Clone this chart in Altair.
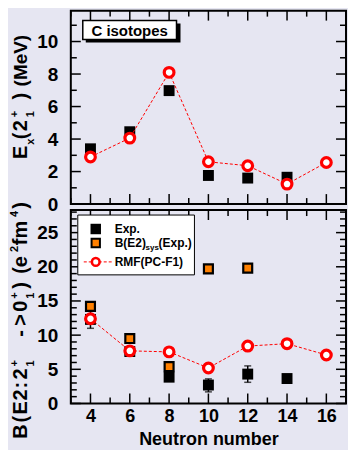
import altair as alt
import pandas as pd

# ---------------- data ----------------
N_exp_E = [4, 6, 8, 10, 12, 14]
E_exp = [3.4, 4.45, 6.98, 1.76, 1.6, 1.65]
N_rmf = [4, 6, 8, 10, 12, 14, 16]
E_rmf = [2.9, 4.06, 8.1, 2.6, 2.36, 1.23, 2.56]

N_exp_B = [4, 6, 8, 10, 12, 14]
B_exp = [12.3, 7.6, 3.85, 2.7, 4.3, 3.65]
N_err = [4, 10, 12]
B_err_lo = [11.0, 1.7, 3.1]
B_err_hi = [13.6, 3.6, 5.5]
N_sys = [4, 6, 8, 10, 12]
B_sys = [14.2, 9.5, 5.4, 19.7, 19.8]
B_rmf = [12.4, 7.7, 7.55, 5.2, 8.4, 8.75, 7.1]

x_ticks_major = [4, 6, 8, 10, 12, 14, 16]
x_ticks_minor = [3, 5, 7, 9, 11, 13, 15, 17]
yt_major = [0, 2, 4, 6, 8, 10]
yt_minor = [1, 3, 5, 7, 9, 11]
yb_major = [0, 5, 10, 15, 20, 25]
yb_minor = [v for v in range(1, 29) if v % 5 != 0]

legend_labels = ["Exp.", "B(E2)", "sys", "(Exp.)", "RMF(PC-F1)"]
panel_label = "C isotopes"
x_title = "Neutron number"
# y-axis titles, split into pieces so sub/superscripts can be stacked
top_title_parts = ["E", "x", "(", "2", "+", "1", ")", "(MeV)"]
bot_title_parts = ["B", "(", "E", "2", ":", "2", "+", "1", "-", ">", "0", "+", "1", ")",
                   "(e", "2", "fm", "4", ")"]

# ---------------- style ----------------
BG = "#e6e6f2"
FONT = "Liberation Sans"
W, H = 276, 194
ORANGE = "#ff8000"
RED = "#ff0000"

xs = alt.Scale(domain=[3, 17], nice=False, zero=False)
ys_top = alt.Scale(domain=[0, 11.9], nice=False, zero=False)
ys_bot = alt.Scale(domain=[0, 28.3], nice=False, zero=False)

yaxis_top = alt.Axis(values=yt_major, ticks=False, domain=False, grid=False,
                     labelFontSize=19, labelFontWeight="bold", labelPadding=13,
                     labelColor="black", title=None)
yaxis_bot = alt.Axis(values=yb_major, ticks=False, domain=False, grid=False,
                     labelFontSize=19, labelFontWeight="bold", labelPadding=13,
                     labelColor="black", title=None)
xaxis_bot = alt.Axis(values=x_ticks_major, ticks=False, domain=False, grid=False,
                     labelFontSize=18, labelFontWeight="bold", labelPadding=4,
                     labelColor="black",
                     title=x_title, titleFontSize=18, titleFontWeight="bold",
                     titleX=W / 2, titleY=41, titleAlign="center",
                     titleBaseline="alphabetic", titleColor="black")

BASE_X = -44   # baseline of rotated y titles (relative to plot left)
SUP, SUB = -9, 7
# (start y along text, x offset from baseline, font size) for each title piece
top_title_layout = [(148.7, 0, 20), (134.5, SUB, 11), (129, 0, 20), (121, 0, 20),
                    (107, SUP, 11), (107, SUB, 11), (89, 0, 20), (76, 0, 19)]
bot_title_layout = [(229.3, 0, 20), (213, 0, 20), (205, 0, 20), (191, 0, 20),
                    (179, 0, 20), (170, 0, 20), (157, SUP, 11), (157, SUB, 11),
                    (127, 0, 20), (116, 0, 20), (102, 0, 20), (89, SUP, 11), (89, SUB, 11),
                    (79, 0, 20), (64, 0, 20), (42, SUP, 11), (35.3, 0, 20),
                    (7, SUP, 11), (-1.3, 0, 20)]


def X(field, axis):
    return alt.X(field, type="quantitative", scale=xs, axis=axis)


one = pd.DataFrame({"a": [0]})


def title_layers(parts, layout):
    out = []
    for txt, (yy, dx, fs) in zip(parts, layout):
        out.append(alt.Chart(one).mark_text(font=FONT, fontSize=fs, fontWeight="bold", color="black",
                                            angle=270, align="left", baseline="alphabetic").encode(
            x=alt.value(BASE_X + dx), y=alt.value(yy), text=alt.value(txt)))
    return out


def frame_ticks(ymaj, ymin, ys, yaxis, xaxis):
    layers = []
    for vals, L in [(ymaj, 10), (ymin, 6)]:
        d = pd.DataFrame({"v": vals})
        b = alt.Chart(d).mark_rule(color="black", strokeWidth=1.5)
        layers.append(b.encode(y=alt.Y("v:Q", scale=ys, axis=yaxis), x=alt.value(0), x2=alt.value(L)))
        layers.append(b.encode(y=alt.Y("v:Q", scale=ys, axis=yaxis), x=alt.value(W - L), x2=alt.value(W)))
    for vals, L in [(x_ticks_major, 10), (x_ticks_minor, 6)]:
        d = pd.DataFrame({"v": vals})
        b = alt.Chart(d).mark_rule(color="black", strokeWidth=1.5)
        layers.append(b.encode(x=X("v", xaxis), y=alt.value(H - L), y2=alt.value(H)))
        layers.append(b.encode(x=X("v", xaxis), y=alt.value(0), y2=alt.value(L)))
    return layers


# ---------------- top panel ----------------
dfE = pd.DataFrame({"N": N_exp_E, "E": E_exp})
dfEr = pd.DataFrame({"N": N_rmf, "E": E_rmf})

top_exp = alt.Chart(dfE).mark_square(size=120, color="black", opacity=1).encode(
    x=X("N", None), y=alt.Y("E:Q", scale=ys_top, axis=yaxis_top))
top_line = alt.Chart(dfEr).mark_line(color=RED, strokeWidth=1, strokeDash=[3, 2]).encode(
    x=X("N", None), y=alt.Y("E:Q", scale=ys_top, axis=yaxis_top))
top_rmf = alt.Chart(dfEr).mark_point(shape="circle", size=95, filled=False, color=RED,
                                     strokeWidth=3.2, fill="white", fillOpacity=1, opacity=1).encode(
    x=X("N", None), y=alt.Y("E:Q", scale=ys_top, axis=yaxis_top))

lab_shadow = alt.Chart(one).mark_rect(color="black").encode(
    x=alt.value(15), x2=alt.value(110), y=alt.value(13), y2=alt.value(32))
lab_box = alt.Chart(one).mark_rect(fill="white", stroke="black", strokeWidth=1.5).encode(
    x=alt.value(12), x2=alt.value(106), y=alt.value(10), y2=alt.value(29))
lab_text = alt.Chart(one).mark_text(font=FONT, fontSize=15, fontWeight="bold", color="black",
                                    align="center", baseline="middle").encode(
    x=alt.value(59), y=alt.value(20), text=alt.value(panel_label))

top = alt.layer(*frame_ticks(yt_major, yt_minor, ys_top, yaxis_top, None),
                top_exp, top_line, top_rmf, lab_shadow, lab_box, lab_text,
                *title_layers(top_title_parts, top_title_layout)
                ).properties(width=W, height=H)

# ---------------- bottom panel ----------------
dfB = pd.DataFrame({"N": N_exp_B, "B": B_exp})
dfErr = pd.DataFrame({"N": N_err, "lo": B_err_lo, "hi": B_err_hi})
dfS = pd.DataFrame({"N": N_sys, "B": B_sys})
dfBr = pd.DataFrame({"N": N_rmf, "B": B_rmf})

err_rule = alt.Chart(dfErr).mark_rule(color="black", strokeWidth=1.5).encode(
    x=X("N", xaxis_bot), y=alt.Y("lo:Q", scale=ys_bot, axis=yaxis_bot), y2="hi:Q")
err_lo = alt.Chart(dfErr).mark_tick(color="black", orient="horizontal", size=7, thickness=1.5).encode(
    x=X("N", xaxis_bot), y=alt.Y("lo:Q", scale=ys_bot, axis=yaxis_bot))
err_hi = alt.Chart(dfErr).mark_tick(color="black", orient="horizontal", size=7, thickness=1.5).encode(
    x=X("N", xaxis_bot), y=alt.Y("hi:Q", scale=ys_bot, axis=yaxis_bot))
bot_exp = alt.Chart(dfB).mark_square(size=120, color="black", opacity=1).encode(
    x=X("N", xaxis_bot), y=alt.Y("B:Q", scale=ys_bot, axis=yaxis_bot))
bot_sys = alt.Chart(dfS).mark_square(size=80, fill=ORANGE, stroke="black", strokeWidth=2.2,
                                     opacity=1, fillOpacity=1).encode(
    x=X("N", xaxis_bot), y=alt.Y("B:Q", scale=ys_bot, axis=yaxis_bot))
bot_line = alt.Chart(dfBr).mark_line(color=RED, strokeWidth=1, strokeDash=[3, 2]).encode(
    x=X("N", xaxis_bot), y=alt.Y("B:Q", scale=ys_bot, axis=yaxis_bot))
bot_rmf = alt.Chart(dfBr).mark_point(shape="circle", size=95, filled=False, color=RED,
                                     strokeWidth=3.2, fill="white", fillOpacity=1, opacity=1).encode(
    x=X("N", xaxis_bot), y=alt.Y("B:Q", scale=ys_bot, axis=yaxis_bot))

# legend (drawn by hand to allow the subscript)
leg_box = alt.Chart(one).mark_rect(fill="white", stroke="black", strokeWidth=1).encode(
    x=alt.value(7), x2=alt.value(124), y=alt.value(5), y2=alt.value(65))
leg_sq1 = alt.Chart(one).mark_square(size=110, color="black", opacity=1).encode(
    x=alt.value(25), y=alt.value(19))
leg_sq2 = alt.Chart(one).mark_square(size=70, fill=ORANGE, stroke="black", strokeWidth=2,
                                     opacity=1, fillOpacity=1).encode(
    x=alt.value(25), y=alt.value(33))
leg_line = alt.Chart(one).mark_rule(color=RED, strokeWidth=1, strokeDash=[3, 2]).encode(
    x=alt.value(13), x2=alt.value(41), y=alt.value(52))
leg_circ = alt.Chart(one).mark_point(shape="circle", size=60, filled=False, color=RED,
                                     strokeWidth=2.6, fill="white", fillOpacity=1, opacity=1).encode(
    x=alt.value(25), y=alt.value(52))


def leg_text(txt, x, y, size=12, baseline="middle"):
    return alt.Chart(one).mark_text(font=FONT, fontSize=size, fontWeight="bold", color="black",
                                    align="left", baseline=baseline).encode(
        x=alt.value(x), y=alt.value(y), text=alt.value(txt))


leg_t1 = leg_text(legend_labels[0], 44, 19)
leg_t2 = leg_text(legend_labels[1], 44, 33)
leg_t3 = leg_text(legend_labels[2], 75, 38, size=8)
leg_t4 = leg_text(legend_labels[3], 88, 33)
leg_t5 = leg_text(legend_labels[4], 44, 52)

bottom = alt.layer(*frame_ticks(yb_major, yb_minor, ys_bot, yaxis_bot, xaxis_bot),
                   err_rule, err_lo, err_hi, bot_exp, bot_sys, bot_line, bot_rmf,
                   leg_box, leg_sq1, leg_sq2, leg_line, leg_circ,
                   leg_t1, leg_t2, leg_t3, leg_t4, leg_t5,
                   *title_layers(bot_title_parts, bot_title_layout)
                   ).properties(width=W, height=H)

chart = alt.vconcat(top, bottom, spacing=6, bounds="flush").resolve_scale(y="independent").properties(
    background=BG,
    padding={"left": 0, "right": 0, "top": 0, "bottom": 0},
).configure_view(stroke="black", strokeWidth=2, fill=BG).configure_axis(
    labelFont=FONT, titleFont=FONT, grid=False
)

chart.save("out.html", embed_options={"renderer": "svg", "actions": False})
